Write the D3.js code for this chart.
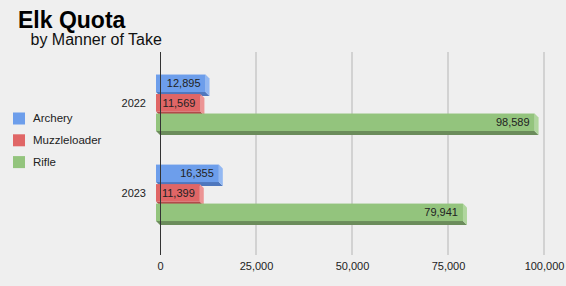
<!DOCTYPE html>
<html>
<head>
<meta charset="utf-8">
<script src="https://cdn.jsdelivr.net/npm/d3@7"></script>
<style>
  html, body { margin: 0; padding: 0; background: #efefef; }
  svg { display: block; font-family: "Liberation Sans", Arial, sans-serif; }
</style>
</head>
<body>
<svg id="chart" width="566" height="286"></svg>
<script>
const years = ["2022", "2023"];
const series = ["Archery", "Muzzleloader", "Rifle"];
const archery = [12895, 16355];
const muzzleloader = [11569, 11399];
const rifle = [98589, 79941];
const tickValues = [0, 25000, 50000, 75000, 100000];

const colors = {
  Archery:      { face: "#6d9eeb", side: "#93b8f2", bottom: "#4f77bd" },
  Muzzleloader: { face: "#e06666", side: "#ec9494", bottom: "#b24a4a" },
  Rifle:        { face: "#93c47d", side: "#b0d69e", bottom: "#6b8c5b" }
};

const valuesBySeries = { Archery: archery, Muzzleloader: muzzleloader, Rifle: rifle };
const data = years.map((y, i) => ({
  year: y,
  bars: series.map(s => ({ series: s, value: valuesBySeries[s][i] }))
}));

const svg = d3.select("#chart");
const depth = 4;

const x = d3.scaleLinear().domain([0, 100000]).range([160, 544]);
const y0 = d3.scaleBand().domain(years).range([41, 254.6]).paddingInner(0.373).paddingOuter(0.3725);
const y1 = d3.scaleBand().domain(series).range([0, y0.bandwidth()]).paddingInner(0.1026).paddingOuter(0);

// Title
svg.append("text").attr("x", 18).attr("y", 27.5)
  .attr("font-size", 23).attr("font-weight", "bold").attr("fill", "#000").text("Elk Quota");
svg.append("text").attr("x", 30.5).attr("y", 44.5)
  .attr("font-size", 16).attr("fill", "#111").text("by Manner of Take");

// Gridlines
const gTop = 52, gBot = 255;
svg.append("g").selectAll("line").data(tickValues.filter(d => d > 0)).join("line")
  .attr("x1", d => x(d)).attr("x2", d => x(d))
  .attr("y1", gTop).attr("y2", gBot)
  .attr("stroke", "#c8c8c8").attr("stroke-width", 1.5);

// Tick labels
const xAxis = d3.axisBottom(x).tickValues(tickValues).tickSize(0).tickPadding(0)
  .tickFormat(d3.format(","));
const ax = svg.append("g").attr("transform", `translate(0,${262})`).call(xAxis);
ax.select(".domain").remove();
ax.selectAll("text").attr("font-size", 11).attr("fill", "#222")
  .attr("font-family", "Liberation Sans, Arial, sans-serif").attr("dy", "0.71em");

// Bars
const groups = svg.append("g").selectAll("g").data(data).join("g")
  .attr("transform", d => `translate(0,${y0(d.year)})`);

const bar = groups.selectAll("g.bar").data(d => d.bars).join("g").attr("class", "bar");

bar.each(function(d) {
  const g = d3.select(this);
  const yt = y1(d.series);
  const h = y1.bandwidth();
  const xs = x(0) - depth;
  const xe = x(d.value) - depth;
  const c = colors[d.series];
  // bottom face
  g.append("polygon")
    .attr("points", [[xs, yt + h], [xe, yt + h], [xe + depth, yt + h + depth], [xs + depth, yt + h + depth]].map(p => p.join(",")).join(" "))
    .attr("fill", c.bottom);
  // right side face
  g.append("polygon")
    .attr("points", [[xe, yt], [xe + depth, yt + depth], [xe + depth, yt + h + depth], [xe, yt + h]].map(p => p.join(",")).join(" "))
    .attr("fill", c.side);
  // front face
  g.append("rect").attr("x", xs).attr("y", yt).attr("width", xe - xs).attr("height", h)
    .attr("fill", c.face);
  // label
  g.append("text").attr("x", xe - 5).attr("y", yt + h / 2 + 4)
    .attr("text-anchor", "end").attr("font-size", 11).attr("fill", "#222")
    .text(d3.format(",")(d.value));
});

// Zero axis line
svg.append("line").attr("x1", x(0) + 0.5).attr("x2", x(0) + 0.5)
  .attr("y1", gTop).attr("y2", gBot).attr("stroke", "#333").attr("stroke-width", 1);

// Category labels
svg.append("g").selectAll("text").data(years).join("text")
  .attr("x", 146).attr("y", d => y0(d) + y0.bandwidth() / 2 + 4)
  .attr("text-anchor", "end").attr("font-size", 11).attr("fill", "#222").text(d => d);

// Legend
const legend = svg.append("g").selectAll("g").data(series).join("g")
  .attr("transform", (d, i) => `translate(13,${112.5 + i * 21.8})`);
legend.append("rect").attr("width", 12).attr("height", 12).attr("fill", d => colors[d].face);
legend.append("text").attr("x", 20).attr("y", 9.5).attr("font-size", 11.5).attr("fill", "#222").text(d => d);
</script>
</body>
</html>
